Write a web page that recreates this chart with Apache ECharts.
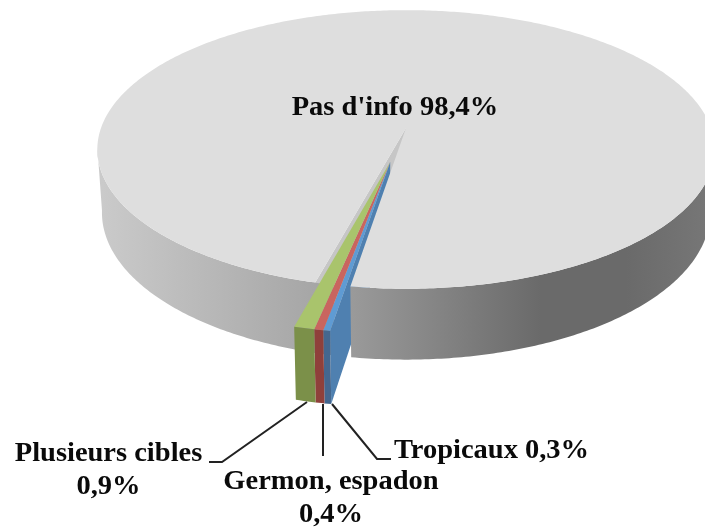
<!DOCTYPE html>
<html><head><meta charset="utf-8">
<style>html,body{margin:0;padding:0;background:#fff}#c{width:705px;height:529px}</style>
<script src="https://cdn.jsdelivr.net/npm/echarts@6/dist/echarts.min.js"></script>
</head><body><div id="c"></div>
<script>
// Data
const categories = ['Tropicaux', 'Germon, espadon', 'Plusieurs cibles', "Pas d'info"];
const shareValues = [0.3, 0.4, 0.9, 98.4];
const labelBreaks = [' ', '\n', '\n', ' '];
const firstSliceAngle = 8.9;

// Perspective model of the disc
const cx = 406, cy = 128, rx = 305, ry = 136, persp = 0.154, depth = 62, lowScale = 0.985;
const explode = [-0.05, 0.24];
const slicedRadius = 0.985;

const topColors = ['#5f9bd3', '#c9655f', '#a9c46c', '#dedede'];
const frontColors = ['#44678f', '#8f403b', '#7b9049', '#a0a0a0'];
const blueSide = '#4f80b0';
const notchWall = '#c6c6c6';

const labelLayout = [
  {x: 491.5, y: 451, line: [[332, 404], [377, 459], [391, 459]]},
  {x: 331, y: 499, line: [[323, 404], [323, 456]]},
  {x: 108.5, y: 471, line: [[307, 402], [222, 462], [209, 462]]},
  {x: 395, y: 108, line: null}
];

const total = shareValues.reduce((a, b) => a + b, 0);
const spans = [];
shareValues.reduce((start, v) => {
  const end = start + v / total * 360;
  spans.push([start, end]);
  return end;
}, firstSliceAngle);

function proj(u, v, low) {
  const s = 1 / (1 - persp * v);
  const k = low ? lowScale : 1;
  return [cx + rx * k * u * s, cy + (low ? depth * s : 0) + ry * k * v * s];
}
function rim(deg, r, off) {
  const a = deg * Math.PI / 180;
  return [off[0] - r * Math.sin(a), off[1] + r * Math.cos(a)];
}
function arc(a0, a1, r, off, low) {
  const n = Math.max(2, Math.ceil(Math.abs(a1 - a0) * 1.5));
  const pts = [];
  for (let i = 0; i <= n; i++) {
    const p = rim(a0 + (a1 - a0) * i / n, r, off);
    pts.push(proj(p[0], p[1], low));
  }
  return pts;
}
const poly = (points, fill) => ({type: 'polygon', shape: {points}, style: {fill, stroke: null}});

const wallGradient = () => new echarts.graphic.LinearGradient(96, 0, 705, 0, [
  {offset: 0, color: '#cbcbcb'},
  {offset: 0.37, color: '#a5a5a5'},
  {offset: 0.42, color: '#9a9a9a'},
  {offset: 0.73, color: '#6a6a6a'},
  {offset: 0.87, color: '#6a6a6a'},
  {offset: 1, color: '#767676'}
], true);
const wall = (s, e) => poly([...arc(s, e, 1, Z, false), ...arc(s, e, 1, Z, true).reverse()], wallGradient());

const Z = [0, 0];
function renderBack() {
  const a = spans[3][0], b = spans[0][0];
  const items = [];
  // inner wall of the main slice, seen through the gap
  items.push(poly([proj(0, 0, false), ...arc(a, a, 1, Z, false).slice(0, 1),
    ...arc(a, a, 1, Z, true).slice(0, 1), proj(0, 0, true)], notchWall));
  // outer wall carried on under the exploded slices
  items.push(wall(a - 3, a + 0.5));
  // cut face of the first exploded slice
  const p0 = rim(b, slicedRadius, explode);
  items.push(poly([proj(explode[0], explode[1], false), proj(p0[0], p0[1], false),
    proj(p0[0], p0[1], true), proj(explode[0], explode[1], true)], blueSide));
  return {type: 'group', children: items};
}
function renderMain() {
  const [a, b] = spans[3];
  return {type: 'group', children: [
    wall(a, 82), wall(278, b),
    poly([proj(0, 0, false), ...arc(a, b, 1, Z, false)], topColors[3])
  ]};
}
function renderSlices(params, api) {
  const i = api.value(0);
  const [a, b] = spans[i];
  const tip = proj(explode[0], explode[1], false);
  return {type: 'group', children: [
    poly([tip, ...arc(a, b, slicedRadius, explode, false)], topColors[i]),
    poly([...arc(a, b, slicedRadius, explode, false), ...arc(a, b, slicedRadius, explode, true).reverse()], frontColors[i])
  ]};
}
function renderLabels(params, api) {
  const i = api.value(0);
  const l = labelLayout[i];
  const kids = [];
  if (l.line) kids.push({type: 'polyline', shape: {points: l.line}, style: {stroke: '#222', lineWidth: 2, fill: null}});
  kids.push({type: 'text', x: l.x, y: l.y, scaleX: 1.075, style: {
    text: categories[i] + labelBreaks[i] + shareValues[i].toFixed(1).replace('.', ',') + '%',
    font: 'bold 26.5px "Liberation Serif"', fill: '#0a0a0a', align: 'center', verticalAlign: 'middle', lineHeight: 33
  }});
  return {type: 'group', children: kids};
}

const idx = categories.map((_, i) => [i]);
const chart = echarts.init(document.getElementById('c'), null, {renderer: 'canvas'});
chart.setOption({
  animation: false,
  backgroundColor: '#fff',
  series: [
    {type: 'custom', coordinateSystem: 'none', z: 1, silent: true, renderItem: renderBack, data: [[3]]},
    {type: 'custom', coordinateSystem: 'none', z: 2, silent: true, renderItem: renderMain, data: [[3]]},
    {type: 'custom', coordinateSystem: 'none', z: 3, silent: true, renderItem: renderSlices, data: idx.slice(0, 3)},
    {type: 'custom', coordinateSystem: 'none', z: 4, silent: true, renderItem: renderLabels, data: idx}
  ]
});
</script></body></html>
